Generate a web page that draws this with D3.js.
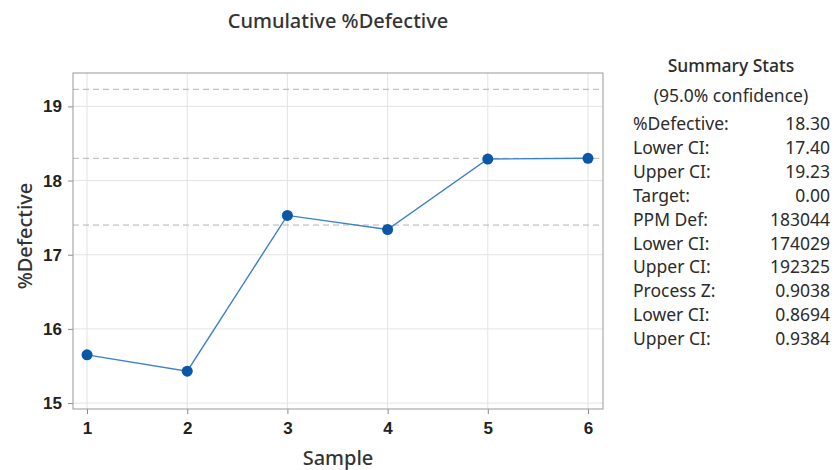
<!DOCTYPE html>
<html>
<head>
<meta charset="utf-8">
<script src="https://cdn.jsdelivr.net/npm/d3@7"></script>
<style>
  body { margin: 0; background: #fff; }
  svg { font-family: "Noto Sans", "Open Sans", sans-serif; }
</style>
</head>
<body>
<div id="chart"></div>
<script>
var svgWidth = 836;
var svgHeight = 470;

// data
var samples = [1, 2, 3, 4, 5, 6];
var cumDefective = [15.65, 15.43, 17.53, 17.34, 18.29, 18.30];
var refLines = [19.23, 18.30, 17.40];
var yTicks = [15, 16, 17, 18, 19];

var statLabels = ["%Defective:", "Lower CI:", "Upper CI:", "Target:", "PPM Def:",
  "Lower CI:", "Upper CI:", "Process Z:", "Lower CI:", "Upper CI:"];
var statValues = ["18.30", "17.40", "19.23", "0.00", "183044",
  "174029", "192325", "0.9038", "0.8694", "0.9384"];

var margin = { top: 73, right: 233, bottom: 61, left: 73 };
var plotWidth = svgWidth - margin.left - margin.right;
var plotHeight = svgHeight - margin.top - margin.bottom;

var svg = d3.select("#chart")
  .append("svg")
  .attr("width", svgWidth)
  .attr("height", svgHeight);

var plot = svg.append("g")
  .attr("transform", `translate(${margin.left}, ${margin.top})`);

var x = d3.scaleLinear().domain([0.86, 6.15]).range([0, plotWidth]);
var y = d3.scaleLinear().domain([14.92, 19.45]).range([plotHeight, 0]);

// gridlines
plot.append("g").selectAll("line")
  .data(samples)
  .enter().append("line")
  .attr("x1", d => x(d)).attr("x2", d => x(d))
  .attr("y1", 0).attr("y2", plotHeight)
  .attr("stroke", "#e3e3e3");

plot.append("g").selectAll("line")
  .data(yTicks)
  .enter().append("line")
  .attr("x1", 0).attr("x2", plotWidth)
  .attr("y1", d => y(d)).attr("y2", d => y(d))
  .attr("stroke", "#e3e3e3");

// reference lines
plot.append("g").selectAll("line")
  .data(refLines)
  .enter().append("line")
  .attr("x1", 0).attr("x2", plotWidth)
  .attr("y1", d => y(d)).attr("y2", d => y(d))
  .attr("stroke", "#b4b4b4")
  .attr("stroke-dasharray", "6,4");

// axes
var bottomAxis = d3.axisBottom(x).tickValues(samples).tickFormat(d3.format("d")).tickSize(5).tickPadding(8);
var leftAxis = d3.axisLeft(y).tickValues(yTicks).tickFormat(d3.format("d")).tickSize(5).tickPadding(6);

var xg = plot.append("g")
  .attr("transform", `translate(0, ${plotHeight})`)
  .call(bottomAxis);
var yg = plot.append("g").call(leftAxis);

[xg, yg].forEach(function(g) {
  g.select(".domain").remove();
  g.selectAll(".tick line").attr("stroke", "#8c8c8c");
  g.selectAll(".tick text")
    .attr("fill", "#222")
    .style("font-size", "17px")
    .style("font-weight", "600");
});

// frame
plot.append("rect")
  .attr("width", plotWidth)
  .attr("height", plotHeight)
  .attr("fill", "none")
  .attr("stroke", "#999");

// line + markers
var pts = samples.map((s, i) => ({ s: s, v: cumDefective[i] }));

plot.append("path")
  .datum(pts)
  .attr("fill", "none")
  .attr("stroke", "#3d7fcc")
  .attr("stroke-width", 1.4)
  .attr("d", d3.line().x(d => x(d.s)).y(d => y(d.v)));

plot.selectAll("circle")
  .data(pts)
  .enter().append("circle")
  .attr("cx", d => x(d.s))
  .attr("cy", d => y(d.v))
  .attr("r", 5.5)
  .attr("fill", "#0a56a8");

// titles
svg.append("text")
  .attr("x", margin.left + plotWidth / 2)
  .attr("y", 28)
  .attr("text-anchor", "middle")
  .attr("fill", "#333")
  .style("font-size", "20px")
  .style("font-weight", "500")
  .text("Cumulative %Defective");

svg.append("text")
  .attr("x", margin.left + plotWidth / 2)
  .attr("y", 465)
  .attr("text-anchor", "middle")
  .attr("fill", "#333")
  .style("font-size", "20px")
  .style("font-weight", "500")
  .text("Sample");

svg.append("text")
  .attr("transform", "rotate(-90)")
  .attr("x", -236)
  .attr("y", 32)
  .attr("text-anchor", "middle")
  .attr("fill", "#333")
  .style("font-size", "20px")
  .style("font-weight", "500")
  .text("%Defective");

// summary stats panel
var stats = svg.append("g").attr("fill", "#2b2b2b").style("font-size", "17.5px");

stats.append("text")
  .attr("x", 731).attr("y", 72)
  .attr("text-anchor", "middle")
  .style("font-weight", "500")
  .text("Summary Stats");

stats.append("text")
  .attr("x", 731).attr("y", 102)
  .attr("text-anchor", "middle")
  .text("(95.0% confidence)");

stats.selectAll(".lab")
  .data(statLabels)
  .enter().append("text")
  .attr("class", "lab")
  .attr("x", 633)
  .attr("y", (d, i) => 130 + i * 23.9)
  .text(d => d);

stats.selectAll(".val")
  .data(statValues)
  .enter().append("text")
  .attr("class", "val")
  .attr("x", 830)
  .attr("y", (d, i) => 130 + i * 23.9)
  .attr("text-anchor", "end")
  .text(d => d);
</script>
</body>
</html>
